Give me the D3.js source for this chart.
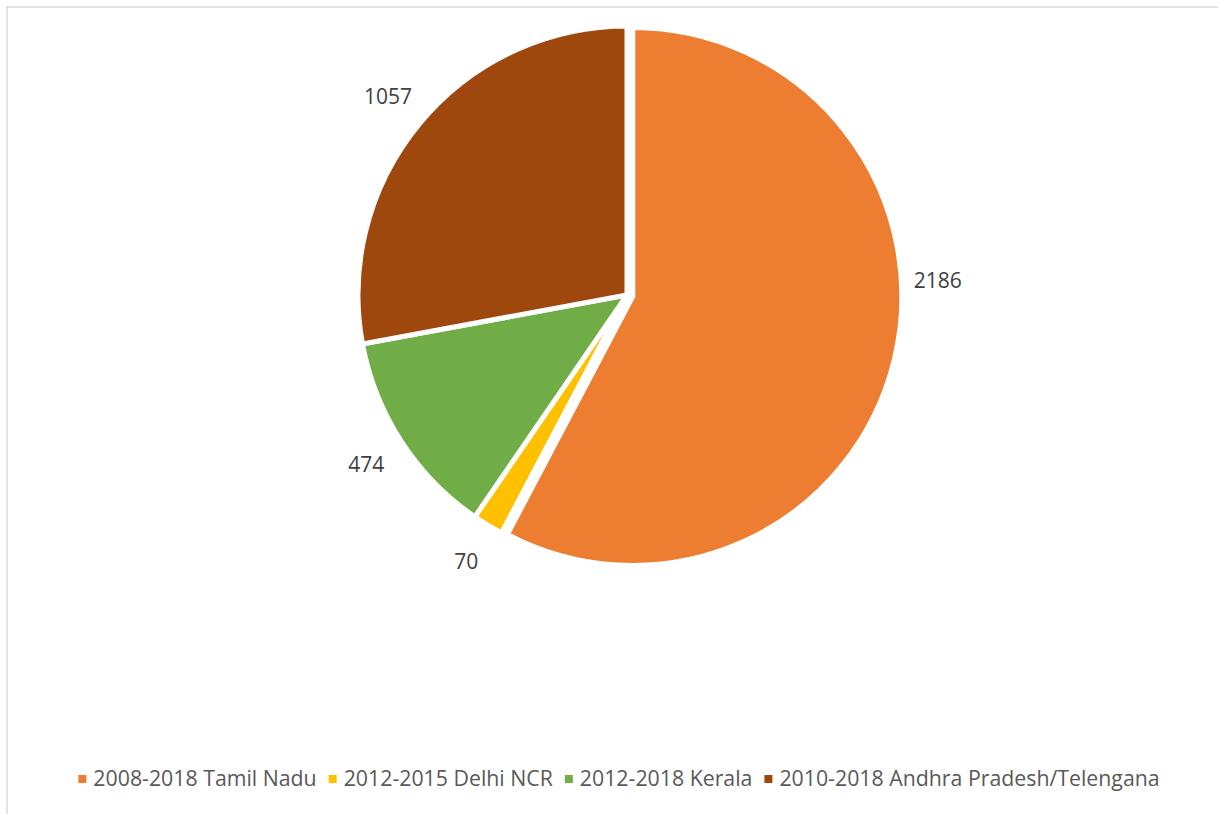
<!DOCTYPE html>
<html>
<head>
<meta charset="utf-8">
<script src="https://cdn.jsdelivr.net/npm/d3@7"></script>
<style>
  body { margin: 0; background: #fff; }
  svg { display: block; font-family: "Open Sans", "Liberation Sans", sans-serif; }
</style>
</head>
<body>
<div id="chart"></div>
<script>
// values
var categories = ["2008-2018 Tamil Nadu", "2012-2015 Delhi NCR", "2012-2018 Kerala", "2010-2018 Andhra Pradesh/Telengana"];
var values = [2186, 70, 474, 1057];
var colors = ["#ED7D31", "#FFC000", "#70AD47", "#9E480E"];

var width = 1218, height = 814;
var cx = 627, cy = 295, radius = 269;

var svg = d3.select("#chart")
    .append("svg")
    .attr("width", width)
    .attr("height", height);

// chart frame (only top/left show in the crop)
svg.append("rect")
    .attr("x", 7)
    .attr("y", 7)
    .attr("width", width + 20)
    .attr("height", height + 20)
    .style("fill", "none")
    .style("stroke", "#d9d9d9")
    .style("stroke-width", 1.5);

var data = categories.map(function(c, i){
    return {name: c, value: values[i], color: colors[i]};
});

var pie = d3.pie()
    .sort(null)
    .value(function(d){ return d.value; });

var arcs = pie(data);

var arc = d3.arc()
    .innerRadius(0)
    .outerRadius(radius);

var g = svg.append("g")
    .attr("transform", "translate(" + cx + "," + cy + ")");

// first slice pulled out a little
var explode = function(d, i){
    if (i !== 0) return [0, 0];
    var a = (d.startAngle + d.endAngle) / 2;
    return [Math.sin(a) * 6, -Math.cos(a) * 6];
};

g.selectAll("path")
    .data(arcs)
    .enter()
    .append("path")
    .attr("d", arc)
    .attr("transform", function(d, i){
        var o = explode(d, i);
        return "translate(" + o[0] + "," + o[1] + ")";
    })
    .style("fill", function(d){ return d.data.color; })
    .style("stroke", "#fff")
    .style("stroke-width", 5)
    .style("stroke-linejoin", "miter");

// data labels outside the pie (big slice label sits higher, like Excel's best fit)
var labelR = radius + 42;
g.selectAll("text.lbl")
    .data(arcs)
    .enter()
    .append("text")
    .attr("class", "lbl")
    .attr("x", function(d){
        var a = labelAngle(d);
        return Math.sin(a) * labelR;
    })
    .attr("y", function(d){
        var a = labelAngle(d);
        return -Math.cos(a) * labelR;
    })
    .attr("dy", "0.36em")
    .attr("text-anchor", "middle")
    .style("font-size", "21px")
    .style("fill", "#404040")
    .text(function(d){ return d.data.value; });

function labelAngle(d){
    var span = d.endAngle - d.startAngle;
    if (span > Math.PI) return d.startAngle + span * 0.42;
    return (d.startAngle + d.endAngle) / 2;
}

// legend, centred under the plot
var legend = svg.append("g").attr("transform", "translate(0,779)");
var items = legend.selectAll("g")
    .data(data)
    .enter()
    .append("g");

items.append("rect")
    .attr("width", 8)
    .attr("height", 8)
    .attr("y", -4)
    .style("fill", function(d){ return d.color; });

items.append("text")
    .attr("x", 15)
    .attr("dy", "0.35em")
    .style("font-size", "21.3px")
    .style("fill", "#595959")
    .text(function(d){ return d.name; });

var widths = [];
items.each(function(){
    widths.push(15 + d3.select(this).select("text").node().getComputedTextLength());
});
var gap = 12;
var total = d3.sum(widths) + gap * (widths.length - 1);
var xpos = 619 - total / 2;
items.attr("transform", function(d, i){
    var x = xpos;
    xpos += widths[i] + gap;
    return "translate(" + x + ",0)";
});
</script>
</body>
</html>
